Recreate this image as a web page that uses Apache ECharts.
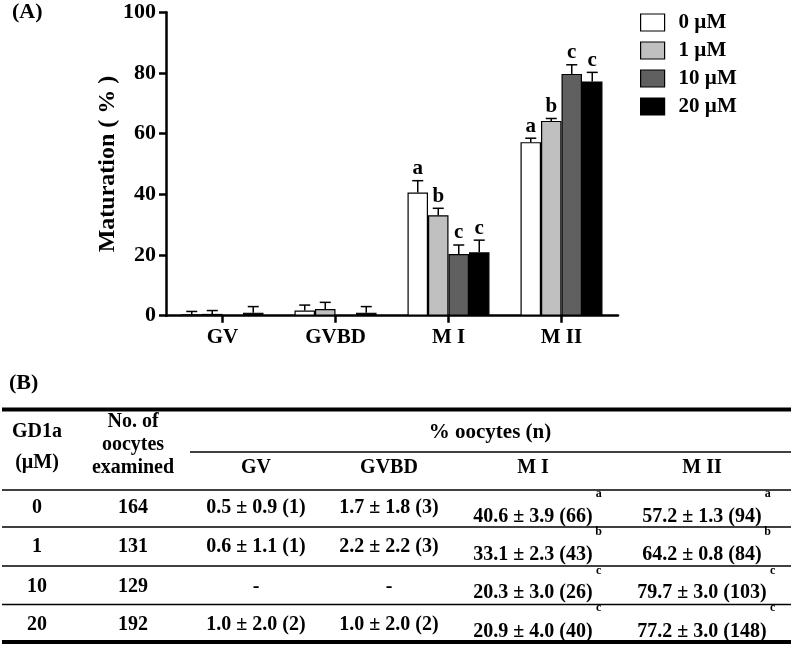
<!DOCTYPE html>
<html>
<head>
<meta charset="utf-8">
<script src="https://cdn.jsdelivr.net/npm/echarts@6/dist/echarts.min.js"></script>
<style>
html,body{margin:0;padding:0;background:#fff;}
#chart{width:793px;height:647px;}
</style>
</head>
<body>
<div id="chart"></div>
<script>
// ---------- data ----------
const categories = ['GV', 'GVBD', 'M I', 'M II'];
const doseNames = ['0 µM', '1 µM', '10 µM', '20 µM'];
const doseLevels = ['0', '1', '10', '20'];
const examined = [164, 131, 129, 192];
const yTicks = [0, 20, 40, 60, 80, 100];

const mean0  = [0.5, 1.7, 40.6, 57.2];
const mean1  = [0.6, 2.2, 33.1, 64.2];
const mean10 = [null, null, 20.3, 79.7];
const mean20 = [1.0, 1.0, 20.9, 77.2];

const sd0  = [0.9, 1.8, 3.9, 1.3];
const sd1  = [1.1, 2.2, 2.3, 0.8];
const sd10 = [null, null, 3.0, 3.0];
const sd20 = [2.0, 2.0, 4.0, 3.0];

const n0  = [1, 3, 66, 94];
const n1  = [1, 3, 43, 84];
const n10 = [null, null, 26, 103];
const n20 = [2, 2, 40, 148];

const letters0  = ['', '', 'a', 'a'];
const letters1  = ['', '', 'b', 'b'];
const letters10 = ['', '', 'c', 'c'];
const letters20 = ['', '', 'c', 'c'];

const means = [mean0, mean1, mean10, mean20];
const sds = [sd0, sd1, sd10, sd20];
const ns = [n0, n1, n10, n20];
const letters = [letters0, letters1, letters10, letters20];

// ---------- styles ----------
const FONT = '"Liberation Serif", "Times New Roman", serif';
const colors = ['#ffffff', '#c0c0c0', '#606060', '#000000'];
const BAR_W = 20.5;

const chart = echarts.init(document.getElementById('chart'));

const barSeries = doseNames.map((name, i) => ({
  name: name,
  type: 'bar',
  data: means[i],
  barWidth: BAR_W,
  barGap: '0%',
  itemStyle: {color: colors[i], borderColor: '#000', borderWidth: 1.2},
  z: 2
}));

const errSeries = doseNames.map((name, i) => ({
  name: 'err' + i,
  type: 'custom',
  z: 3,
  data: categories.map((c, k) => [k, means[i][k], sds[i][k], letters[i][k]]).filter(d => d[1] != null),
  renderItem: function (params, api) {
    const k = api.value(0), m = api.value(1), s = api.value(2);
    const letter = letters[i][k];
    const base = api.coord([k, m]);
    const top = api.coord([k, m + s]);
    const x = base[0] + (i - 1.5) * BAR_W;
    const children = [
      {type: 'line', shape: {x1: x, y1: base[1], x2: x, y2: top[1]}, style: {stroke: '#000', lineWidth: 1.5}},
      {type: 'line', shape: {x1: x - 5.5, y1: top[1], x2: x + 5.5, y2: top[1]}, style: {stroke: '#000', lineWidth: 1.5}}
    ];
    if (letter) {
      children.push({type: 'text', x: x, y: top[1] - 12,
        style: {text: letter, font: 'bold 21px ' + FONT, fill: '#000', align: 'center', verticalAlign: 'middle'}});
    }
    return {type: 'group', children: children};
  }
}));

// ---------- table (B) ----------
function cell(m, s, n) {
  if (m == null) return '-';
  return m.toFixed(1) + ' ± ' + s.toFixed(1) + ' (' + n + ')';
}
const ctx = document.createElement('canvas').getContext('2d');
const TFONT = 'bold 20px ' + FONT;
ctx.font = TFONT;

const colX = [37, 133, 256, 389, 533, 702];
const rowY = [508, 547, 587, 625];
const rowYLow = [517, 555, 593, 632];
const supY = [494, 532, 571, 608];

const graphics = [];
function txt(t, x, y, font, align) {
  graphics.push({type: 'text', x: x, y: y, silent: true,
    style: {text: t, font: font || TFONT, fill: '#000', align: align || 'center', verticalAlign: 'middle'}});
}
function hline(x1, x2, y, w) {
  graphics.push({type: 'line', silent: true, shape: {x1: x1, y1: y, x2: x2, y2: y}, style: {stroke: '#000', lineWidth: w}});
}
txt('(A)', 12, 12, 'bold 22px ' + FONT, 'left');
txt('(B)', 9, 383, 'bold 22px ' + FONT, 'left');
hline(2, 791, 409.5, 4);
hline(190, 791, 452, 1.6);
hline(2, 791, 490, 1.6);
hline(2, 791, 527, 1.6);
hline(2, 791, 566, 1.6);
hline(2, 791, 604.5, 1.6);
hline(2, 791, 642, 4);

txt('GD1a', colX[0], 432);
txt('(µM)', colX[0], 463);
txt('No. of', colX[1], 422);
txt('oocytes', colX[1], 445);
txt('examined', colX[1], 468);
txt('% oocytes (n)', 490, 433, 'bold 21px ' + FONT);
categories.forEach((c, k) => txt(c, colX[2 + k], 468));

doseLevels.forEach((d, r) => {
  txt(d, colX[0], rowY[r]);
  txt(String(examined[r]), colX[1], rowY[r]);
  for (let k = 0; k < 4; k++) {
    const s = cell(means[r][k], sds[r][k], ns[r][k]);
    const low = k >= 2;
    txt(s, colX[2 + k], low ? rowYLow[r] : rowY[r]);
    if (letters[r][k]) {
      const w = ctx.measureText(s).width;
      txt(letters[r][k], colX[2 + k] + w / 2 + 6, supY[r], 'bold 12px ' + FONT);
    }
  }
});

// ---------- chart ----------
chart.setOption({
  backgroundColor: '#fff',
  animation: false,
  textStyle: {fontFamily: FONT},
  grid: {left: 166, width: 452, top: 12.3, height: 303.4, containLabel: false},
  legend: {
    data: doseNames,
    orient: 'vertical',
    left: 640, top: 12,
    padding: 0,
    itemWidth: 24, itemHeight: 17, itemGap: 7,
    icon: 'rect',
    itemStyle: {borderColor: '#000', borderWidth: 1.2},
    textStyle: {fontFamily: FONT, fontWeight: 'bold', fontSize: 21, color: '#000', padding: [0, 0, 0, 9]},
    selectedMode: false
  },
  xAxis: {
    type: 'category',
    data: categories,
    axisLine: {lineStyle: {color: '#000', width: 2.5}},
    axisTick: {show: true, alignWithLabel: true, length: 7, lineStyle: {color: '#000', width: 2.5}},
    axisLabel: {fontFamily: FONT, fontWeight: 'bold', fontSize: 21, color: '#000', margin: 11}
  },
  yAxis: {
    type: 'value',
    min: yTicks[0], max: yTicks[yTicks.length - 1], interval: 20,
    name: 'Maturation ( % )',
    nameLocation: 'middle',
    nameRotate: 90,
    nameGap: 46,
    nameMoveOverlap: false,
    nameTextStyle: {fontFamily: FONT, fontWeight: 'bold', fontSize: 24, color: '#000'},
    axisLine: {show: true, lineStyle: {color: '#000', width: 2.5}},
    axisTick: {show: true, length: 7, lineStyle: {color: '#000', width: 2.5}},
    splitLine: {show: false},
    axisLabel: {fontFamily: FONT, fontWeight: 'bold', fontSize: 22, color: '#000', margin: 10}
  },
  series: barSeries.concat(errSeries),
  graphic: graphics
});
</script>
</body>
</html>
